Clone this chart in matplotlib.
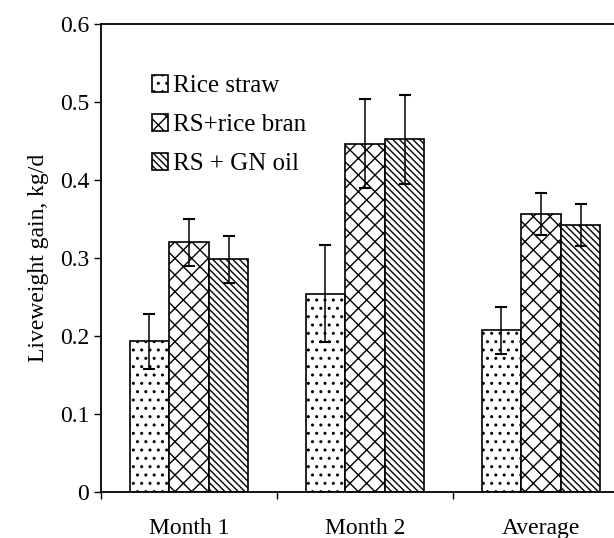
import numpy as np
import matplotlib
matplotlib.use("Agg")
import matplotlib.pyplot as plt

plt.rcParams['font.family'] = ['Liberation Serif', 'DejaVu Serif']
plt.rcParams['hatch.linewidth'] = 1.0

groups = ["Month 1", "Month 2", "Average"]
series = ["Rice straw", "RS+rice bran", "RS + GN oil"]
values = {
    "Rice straw": [0.193, 0.254, 0.207],
    "RS+rice bran": [0.320, 0.446, 0.356],
    "RS + GN oil": [0.298, 0.452, 0.342],
}
errors = {
    "Rice straw": [0.035, 0.062, 0.030],
    "RS+rice bran": [0.030, 0.057, 0.027],
    "RS + GN oil": [0.030, 0.057, 0.027],
}
hatches = ["..", "xx", "\\\\\\\\\\"]
yticks = [0, 0.1, 0.2, 0.3, 0.4, 0.5, 0.6]

fig = plt.figure(figsize=(6.14, 5.38), dpi=100)
ax = fig.add_axes([0.1645, 0.0855, 0.8355, 0.8705])

x = np.arange(len(groups))
w = 0.225
for i, name in enumerate(series):
    ax.bar(x + (i - 1) * w, values[name], w, color='white', edgecolor='black',
           linewidth=1.2, hatch=hatches[i], label=name, zorder=2)
    ax.errorbar(x + (i - 1) * w, values[name], yerr=errors[name], fmt='none',
                ecolor='black', elinewidth=1.1, capsize=4.5, capthick=1.5, zorder=3)

ax.set_xlim(-0.5, 2.415)
ax.set_ylim(0, 0.6)
ax.set_yticks(yticks)
ax.set_yticklabels(["0"] + ["%.1f" % t for t in yticks[1:]])
ax.set_xticks([-0.5, 0.5, 1.5])
ax.set_xticklabels([])
ax.set_xticks(x, minor=True)
ax.set_xticklabels(groups, minor=True)
ax.tick_params(axis='x', which='minor', length=0, pad=19)
ax.tick_params(axis='both', which='major', direction='out', length=5, width=1.0)
ax.tick_params(which='both', labelsize=17)
ax.set_ylabel("Liveweight gain, kg/d", fontsize=17, labelpad=8)

ax.spines['right'].set_visible(False)
for s in ['left', 'top', 'bottom']:
    ax.spines[s].set_linewidth(1.3)

ax.legend(loc='upper left', bbox_to_anchor=(0.08, 0.912), frameon=False,
          fontsize=18, handlelength=0.65, handleheight=0.65,
          handletextpad=0.2, labelspacing=0.68, borderaxespad=0)

fig.savefig("out.png", dpi=100)
